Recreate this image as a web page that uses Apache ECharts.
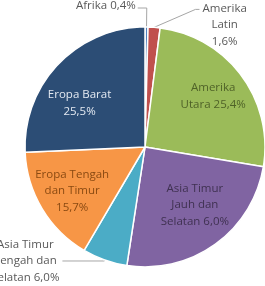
<!DOCTYPE html>
<html>
<head>
<meta charset="utf-8">
<script src="https://cdn.jsdelivr.net/npm/echarts@6/dist/echarts.min.js"></script>
<style>
  html, body { margin: 0; padding: 0; background: #fff; }
  #chart { width: 265px; height: 286px; }
</style>
</head>
<body>
<div id="chart"></div>
<script>
// slices, clockwise from 12 o'clock
const names = ['Afrika', 'Amerika Latin', 'Amerika Utara', 'Asia Timur Jauh dan Selatan',
  'Asia Timur Tengah dan Selatan', 'Eropa Tengah dan Timur', 'Eropa Barat'];
// slice sizes as drawn in the picture
const values = [0.4, 1.6, 25.4, 24.6, 6.0, 15.7, 25.5];
// label texts as printed
const labelText = ['Afrika 0,4%', 'Amerika\nLatin\n1,6%', 'Amerika\nUtara 25,4%',
  'Asia Timur\nJauh dan\nSelatan 6,0%', 'Asia Timur\nTengah dan\nSelatan 6,0%',
  'Eropa Tengah\ndan Timur\n15,7%', 'Eropa Barat\n25,5%'];
const outsideIdx = [0, 1, 4];

const colors = ['#4F81BD', '#C0504D', '#9BBB59', '#8064A2', '#4BACC6', '#F79646', '#2C4D75'];
const insideText = ['#595959', '#595959', '#4f6228', '#3f3151', '#595959', '#8a4a12', '#e3e9f1'];

const font = '"Open Sans", "Noto Sans", sans-serif';
const fontSize = 11.5;
const lh = 16.5;
const center = [145, 147];

const chart = echarts.init(document.getElementById('chart'), null, { renderer: 'canvas' });

const mainData = names.map((n, i) => {
  const out = outsideIdx.includes(i);
  return {
    name: n,
    value: values[i],
    itemStyle: { color: colors[i] },
    label: out ? {
      show: true,
      formatter: labelText[i].split('\n').map(s => '{c|' + s + '}').join('\n')
    } : { show: false },
    labelLine: i === 0 ? { show: true, length: 19, length2: 9 }
      : i === 1 ? { show: true, length: 18, length2: 44 }
      : i === 4 ? { show: true, length: 1, length2: 42 }
      : { show: false }
  };
});

const innerData = names.map((n, i) => ({
  name: n,
  value: values[i],
  label: outsideIdx.includes(i) ? { show: false } : {
    show: true,
    formatter: labelText[i],
    color: insideText[i]
  }
}));

const option = {
  animation: false,
  backgroundColor: '#fff',
  series: [
    {
      type: 'pie',
      center: center,
      radius: 120,
      startAngle: 90,
      clockwise: true,
      avoidLabelOverlap: false,
      emphasis: { disabled: true },
      itemStyle: { borderColor: '#fff', borderWidth: 1.5 },
      label: {
        position: 'outside',
        color: '#595959',
        fontFamily: font,
        fontSize: fontSize,
        lineHeight: lh,
        distanceToLabelLine: 3,
        rich: {
          c: { align: 'center', color: '#595959', fontFamily: font, fontSize: fontSize, lineHeight: lh }
        }
      },
      labelLine: { lineStyle: { color: '#a6a6a6', width: 1 } },
      labelLayout: function (p) {
        const pts = p.labelLinePoints;
        if (!pts || pts.length < 3) return;
        const a = pts[0], b = pts[1], c = pts[2];
        if (p.dataIndex === 0) {
          // Afrika label sits on the left of its leader
          const end = [2 * b[0] - c[0], c[1]];
          return { x: end[0] - 2, y: end[1] - 2, align: 'right', verticalAlign: 'middle',
            labelLinePoints: [a, b, end] };
        }
        if (p.dataIndex === 1) {
          return { x: c[0] + 3, y: c[1] - 9, align: 'left', verticalAlign: 'top',
            labelLinePoints: [a, [c[0] - 4, c[1]], c] };
        }
      },
      data: mainData
    },
    {
      type: 'pie',
      center: center,
      radius: [44, 120],
      startAngle: 90,
      clockwise: true,
      silent: true,
      avoidLabelOverlap: false,
      emphasis: { disabled: true },
      itemStyle: { color: 'rgba(0,0,0,0)', borderWidth: 0 },
      label: {
        position: 'inside',
        fontFamily: font,
        fontSize: fontSize,
        lineHeight: lh
      },
      labelLine: { show: false },
      labelLayout: function (p) {
        // small shifts to where the original placed these labels
        if (p.dataIndex === 6) return { dx: -4, dy: 15 };
        if (p.dataIndex === 3) return { dy: -11 };
      },
      data: innerData
    }
  ]
};

chart.setOption(option);
</script>
</body>
</html>
